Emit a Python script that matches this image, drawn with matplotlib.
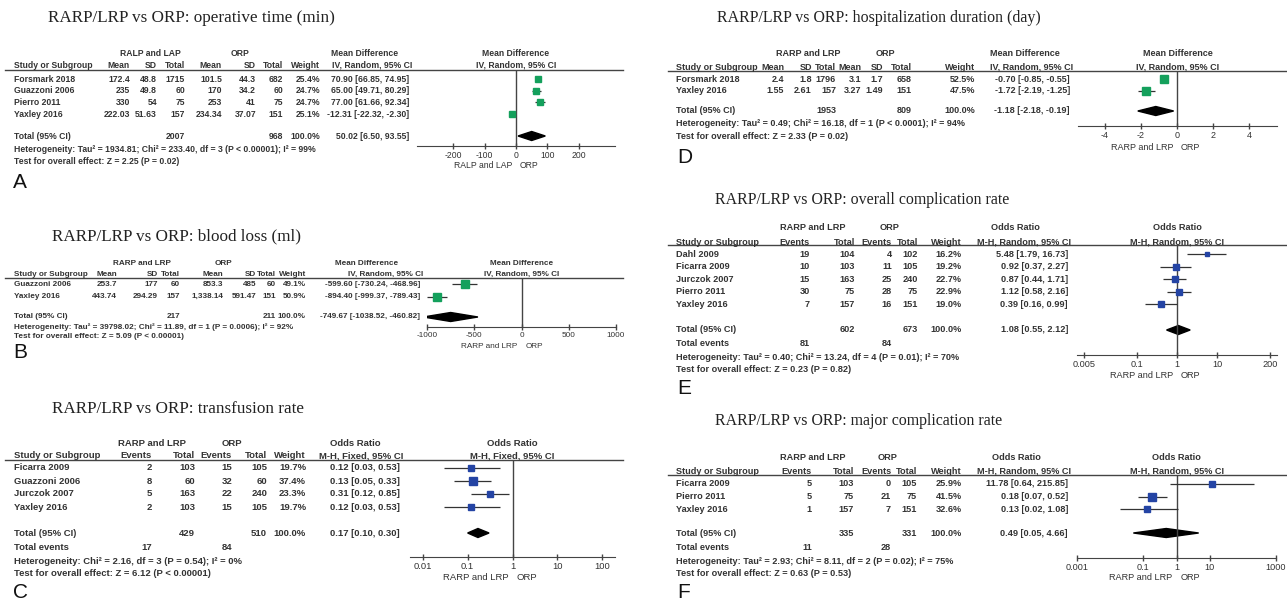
import numpy as np
import matplotlib.pyplot as plt
from matplotlib.lines import Line2D
from matplotlib import transforms
from matplotlib.ticker import FixedLocator, FixedFormatter, NullLocator

plt.rcParams['font.family'] = ['Liberation Sans', 'DejaVu Sans']

W, H = 1287, 606
SERIF = 'Liberation Serif'
TXT = '#333333'
AXC = '#444444'
GREEN = '#14a05c'
BLUE = '#2444a4'

# ---------------- A: operative time ----------------
a_studies = ["Forsmark 2018", "Guazzoni 2006", "Pierro 2011", "Yaxley 2016"]
a_exp_mean = [172.4, 235, 330, 222.03]
a_exp_sd = [48.8, 49.8, 54, 51.63]
a_exp_n = [1715, 60, 75, 157]
a_ctl_mean = [101.5, 170, 253, 234.34]
a_ctl_sd = [44.3, 34.2, 41, 37.07]
a_ctl_n = [682, 60, 75, 151]
a_weight = [25.4, 24.7, 24.7, 25.1]
a_md = [70.90, 65.00, 77.00, -12.31]
a_lo = [66.85, 49.71, 61.66, -22.32]
a_hi = [74.95, 80.29, 92.34, -2.30]
a_total = (50.02, 6.50, 93.55)
a_n_total = (2007, 968)
a_het = "Heterogeneity: Tau² = 1934.81; Chi² = 233.40, df = 3 (P < 0.00001); I² = 99%"
a_test = "Test for overall effect: Z = 2.25 (P = 0.02)"

# ---------------- B: blood loss ----------------
b_studies = ["Guazzoni 2006", "Yaxley 2016"]
b_exp_mean = [253.7, 443.74]
b_exp_sd = [177, 294.29]
b_exp_n = [60, 157]
b_ctl_mean = [853.3, 1338.14]
b_ctl_sd = [485, 591.47]
b_ctl_n = [60, 151]
b_weight = [49.1, 50.9]
b_md = [-599.60, -894.40]
b_lo = [-730.24, -999.37]
b_hi = [-468.96, -789.43]
b_total = (-749.67, -1038.52, -460.82)
b_n_total = (217, 211)
b_het = "Heterogeneity: Tau² = 39798.02; Chi² = 11.89, df = 1 (P = 0.0006); I² = 92%"
b_test = "Test for overall effect: Z = 5.09 (P < 0.00001)"

# ---------------- C: transfusion rate ----------------
c_studies = ["Ficarra 2009", "Guazzoni 2006", "Jurczok 2007", "Yaxley 2016"]
c_exp_ev = [2, 8, 5, 2]
c_exp_n = [103, 60, 163, 103]
c_ctl_ev = [15, 32, 22, 15]
c_ctl_n = [105, 60, 240, 105]
c_weight = [19.7, 37.4, 23.3, 19.7]
c_or = [0.12, 0.13, 0.31, 0.12]
c_lo = [0.03, 0.05, 0.12, 0.03]
c_hi = [0.53, 0.33, 0.85, 0.53]
c_total = (0.17, 0.10, 0.30)
c_n_total = (429, 510)
c_ev_total = (17, 84)
c_het = "Heterogeneity: Chi² = 2.16, df = 3 (P = 0.54); I² = 0%"
c_test = "Test for overall effect: Z = 6.12 (P < 0.00001)"

# ---------------- D: hospitalization duration ----------------
d_studies = ["Forsmark 2018", "Yaxley 2016"]
d_exp_mean = [2.4, 1.55]
d_exp_sd = [1.8, 2.61]
d_exp_n = [1796, 157]
d_ctl_mean = [3.1, 3.27]
d_ctl_sd = [1.7, 1.49]
d_ctl_n = [658, 151]
d_weight = [52.5, 47.5]
d_md = [-0.70, -1.72]
d_lo = [-0.85, -2.19]
d_hi = [-0.55, -1.25]
d_total = (-1.18, -2.18, -0.19)
d_n_total = (1953, 809)
d_het = "Heterogeneity: Tau² = 0.49; Chi² = 16.18, df = 1 (P < 0.0001); I² = 94%"
d_test = "Test for overall effect: Z = 2.33 (P = 0.02)"

# ---------------- E: overall complication rate ----------------
e_studies = ["Dahl 2009", "Ficarra 2009", "Jurczok 2007", "Pierro 2011", "Yaxley 2016"]
e_exp_ev = [19, 10, 15, 30, 7]
e_exp_n = [104, 103, 163, 75, 157]
e_ctl_ev = [4, 11, 25, 28, 16]
e_ctl_n = [102, 105, 240, 75, 151]
e_weight = [16.2, 19.2, 22.7, 22.9, 19.0]
e_or = [5.48, 0.92, 0.87, 1.12, 0.39]
e_lo = [1.79, 0.37, 0.44, 0.58, 0.16]
e_hi = [16.73, 2.27, 1.71, 2.16, 0.99]
e_total = (1.08, 0.55, 2.12)
e_n_total = (602, 673)
e_ev_total = (81, 84)
e_het = "Heterogeneity: Tau² = 0.40; Chi² = 13.24, df = 4 (P = 0.01); I² = 70%"
e_test = "Test for overall effect: Z = 0.23 (P = 0.82)"

# ---------------- F: major complication rate ----------------
f_studies = ["Ficarra 2009", "Pierro 2011", "Yaxley 2016"]
f_exp_ev = [5, 5, 1]
f_exp_n = [103, 75, 157]
f_ctl_ev = [0, 21, 7]
f_ctl_n = [105, 75, 151]
f_weight = [25.9, 41.5, 32.6]
f_or = [11.78, 0.18, 0.13]
f_lo = [0.64, 0.07, 0.02]
f_hi = [215.85, 0.52, 1.08]
f_total = (0.49, 0.05, 4.66)
f_n_total = (335, 331)
f_ev_total = (11, 28)
f_het = "Heterogeneity: Tau² = 2.93; Chi² = 8.11, df = 2 (P = 0.02); I² = 75%"
f_test = "Test for overall effect: Z = 0.63 (P = 0.53)"

md_heads = ["Mean", "SD", "Total", "Mean", "SD", "Total", "Weight"]
or_heads = ["Events", "Total", "Events", "Total", "Weight"]

fig = plt.figure(figsize=(W / 100, H / 100), dpi=100)


def fy(y):
    return 1 - y / H


def T(x, y, s, size, ha='left', weight='bold', **kw):
    fig.text(x / W, fy(y), s, ha=ha, va='center', fontsize=size,
             fontweight=weight, color=kw.pop('color', TXT), **kw)


def md_cells(em, es, en, cm, cs, cn, w):
    return [[f"{v:,}" for v in em], [str(v) for v in es], [str(v) for v in en],
            [f"{v:,}" for v in cm], [str(v) for v in cs], [str(v) for v in cn],
            [f"{v:.1f}%" for v in w]]


def or_cells(ee, en, ce, cn, w):
    return [[str(v) for v in ee], [str(v) for v in en], [str(v) for v in ce],
            [str(v) for v in cn], [f"{v:.1f}%" for v in w]]


def panel(L, title, group, heads, studies, cells, est, lo, hi, wt, tot, ntot,
          est_head, het, test, letter, events=None, log=False, color=GREEN):
    fs = L['fs']
    T(L['title'][0], L['title'][1], title, L['tfs'], weight='normal',
      family=SERIF, color='#222222')
    T(L['grp'][0], L['h1'], group, fs, ha='center')
    T(L['grp'][1], L['h1'], "ORP", fs, ha='center')
    T(L['est_h1'], L['h1'], est_head[0], fs, ha='center')
    T(L['name'], L['h2'], "Study or Subgroup", fs)
    for x, s in zip(L['cols'], heads):
        T(x, L['h2'], s, fs, ha='right')
    T(L['est_r'] + 3, L['h2'], est_head[1], fs, ha='right')
    fig.add_artist(Line2D([L['line_x'][0] / W, L['line_x'][1] / W],
                          [fy(L['line'])] * 2, transform=fig.transFigure,
                          color=AXC, lw=1))

    rows = [L['y0'] + i * L['dy'] for i in range(len(studies))]
    for i, (y, name) in enumerate(zip(rows, studies)):
        T(L['name'], y, name, fs)
        for x, col in zip(L['cols'], cells):
            T(x, y, col[i], fs, ha='right')
        T(L['est_r'], y, f"{est[i]:.2f} [{lo[i]:.2f}, {hi[i]:.2f}]", fs, ha='right')

    ty = L['tot']
    ncol = (2, 5) if events is None else (1, 3)
    T(L['name'], ty, "Total (95% CI)", fs)
    T(L['cols'][ncol[0]], ty, str(ntot[0]), fs, ha='right')
    T(L['cols'][ncol[1]], ty, str(ntot[1]), fs, ha='right')
    T(L['cols'][-1], ty, "100.0%", fs, ha='right')
    T(L['est_r'], ty, f"{tot[0]:.2f} [{tot[1]:.2f}, {tot[2]:.2f}]", fs, ha='right')
    if events is not None:
        T(L['name'], L['ev'], "Total events", fs)
        T(L['cols'][0], L['ev'], str(events[0]), fs, ha='right')
        T(L['cols'][2], L['ev'], str(events[1]), fs, ha='right')
    T(L['name'], L['het'], het, fs)
    T(L['name'], L['test'], test, fs)
    T(L['letter'][0], L['letter'][1], letter, 15, weight='normal', color='#111111')

    # forest plot
    x0, x1 = L['fx']
    ya, yt = L['axis'], L['line']
    ax = fig.add_axes([x0 / W, 1 - ya / H, (x1 - x0) / W, (ya - yt) / H])
    if log:
        ax.set_xscale('log')
    null = 1 if log else 0
    ax.set_xlim(L['xlim'])
    ax.set_ylim(ya, yt)
    ax.patch.set_visible(False)
    for s in ['top', 'left', 'right']:
        ax.spines[s].set_visible(False)
    ax.spines['bottom'].set_color(AXC)
    ax.set_yticks([])
    ax.xaxis.set_major_locator(FixedLocator(L['ticks']))
    ax.xaxis.set_major_formatter(FixedFormatter([f"{t:g}" for t in L['ticks']]))
    ax.xaxis.set_minor_locator(NullLocator())
    ax.tick_params(axis='x', direction='inout', length=4.5, width=1, color=AXC,
                   labelsize=fs, labelcolor=TXT, pad=1.5)
    ax.axvline(null, color=AXC, lw=1)
    ax.hlines(rows, lo, hi, color='#333333', lw=0.9)
    for y, e, w in zip(rows, est, wt):
        ax.plot(e, y, 's', ms=0.85 * np.sqrt(w), color=color, mec=color)
    d = 4.5
    ax.fill([tot[1], tot[0], tot[2], tot[0]], [ty, ty - d, ty, ty + d], color='black')

    T((x0 + x1) / 2, L['h1'], est_head[0], fs, ha='center')
    T((x0 + x1) / 2, L['h2'], est_head[1], fs, ha='center')

    base = transforms.blended_transform_factory(ax.transData, fig.transFigure)
    ax.text(null, fy(L['dir']), group, ha='right', va='center', fontsize=fs, color=TXT,
            transform=transforms.offset_copy(base, fig=fig, x=-4, units='dots'))
    ax.text(null, fy(L['dir']), "ORP", ha='left', va='center', fontsize=fs, color=TXT,
            transform=transforms.offset_copy(base, fig=fig, x=4, units='dots'))


LA = dict(fs=6.2, tfs=12.3, title=(48, 18), h1=53, h2=65, line=69.5, line_x=(5, 623), name=14,
          cols=[130, 157, 185, 222, 256, 283, 320], est_r=409, grp=(150, 240), est_h1=365,
          y0=79, dy=11.7, tot=136, het=149, test=162, letter=(13, 182),
          fx=(417, 615), axis=146, xlim=(-316, 316), ticks=[-200, -100, 0, 100, 200], dir=166)
LB = dict(fs=5.9, tfs=12.3, title=(52, 236), h1=264, h2=274, line=277.5, line_x=(5, 623), name=14,
          cols=[117, 158, 180, 223, 256, 276, 306], est_r=420, grp=(142, 223), est_h1=367,
          y0=284, dy=12.5, tot=317, het=327, test=336, letter=(13, 353),
          fx=(427, 616), axis=327, xlim=(-1000, 1000), ticks=[-1000, -500, 0, 500, 1000], dir=346)
LC = dict(fs=6.8, tfs=12.3, title=(52, 409), h1=443, h2=456, line=460, line_x=(5, 623), name=14,
          cols=[152, 195, 232, 267, 306], est_r=400, grp=(152, 232), est_h1=355,
          y0=468, dy=13, tot=533, ev=547, het=561, test=573, letter=(13, 593),
          fx=(410, 615), axis=557, xlim=(0.0052, 192), ticks=[0.01, 0.1, 1, 10, 100], dir=578)
LD = dict(fs=6.45, tfs=11.4, title=(717, 18), h1=54, h2=67, line=70.5, line_x=(668, 1287), name=676,
          cols=[784, 812, 836, 861, 883, 912, 975], est_r=1070, grp=(808, 885), est_h1=1025,
          y0=79, dy=11.5, tot=111, het=124, test=136, letter=(677, 157),
          fx=(1078, 1277), axis=126, xlim=(-5.5, 5.55), ticks=[-4, -2, 0, 2, 4], dir=147)
LE = dict(fs=6.6, tfs=11.4, title=(715, 200), h1=228, h2=242, line=245, line_x=(668, 1287), name=676,
          cols=[810, 855, 892, 918, 962], est_r=1068, grp=(813, 890), est_h1=1015,
          y0=254, dy=12.6, tot=330, ev=344, het=357, test=369, letter=(677, 388),
          fx=(1077, 1277), axis=355, xlim=(0.0033, 302), ticks=[0.005, 0.1, 1, 10, 200], dir=375)
LF = dict(fs=6.6, tfs=11.4, title=(715, 421), h1=457, h2=471, line=474.5, line_x=(668, 1287), name=676,
          cols=[812, 854, 891, 917, 962], est_r=1068, grp=(813, 888), est_h1=1016,
          y0=484, dy=12.7, tot=533, ev=547, het=561, test=574, letter=(677, 593),
          fx=(1077, 1276), axis=558, xlim=(0.001, 1000), ticks=[0.001, 0.1, 1, 10, 1000], dir=578)

panel(LA, "RARP/LRP vs ORP: operative time (min)", "RALP and LAP", md_heads, a_studies,
      md_cells(a_exp_mean, a_exp_sd, a_exp_n, a_ctl_mean, a_ctl_sd, a_ctl_n, a_weight),
      a_md, a_lo, a_hi, a_weight, a_total, a_n_total,
      ("Mean Difference", "IV, Random, 95% CI"), a_het, a_test, "A")
panel(LB, "RARP/LRP vs ORP: blood loss (ml)", "RARP and LRP", md_heads, b_studies,
      md_cells(b_exp_mean, b_exp_sd, b_exp_n, b_ctl_mean, b_ctl_sd, b_ctl_n, b_weight),
      b_md, b_lo, b_hi, b_weight, b_total, b_n_total,
      ("Mean Difference", "IV, Random, 95% CI"), b_het, b_test, "B")
panel(LC, "RARP/LRP vs ORP: transfusion rate", "RARP and LRP", or_heads, c_studies,
      or_cells(c_exp_ev, c_exp_n, c_ctl_ev, c_ctl_n, c_weight),
      c_or, c_lo, c_hi, c_weight, c_total, c_n_total,
      ("Odds Ratio", "M-H, Fixed, 95% CI"), c_het, c_test, "C",
      events=c_ev_total, log=True, color=BLUE)
panel(LD, "RARP/LRP vs ORP: hospitalization duration (day)", "RARP and LRP", md_heads, d_studies,
      md_cells(d_exp_mean, d_exp_sd, d_exp_n, d_ctl_mean, d_ctl_sd, d_ctl_n, d_weight),
      d_md, d_lo, d_hi, d_weight, d_total, d_n_total,
      ("Mean Difference", "IV, Random, 95% CI"), d_het, d_test, "D")
panel(LE, "RARP/LRP vs ORP: overall complication rate", "RARP and LRP", or_heads, e_studies,
      or_cells(e_exp_ev, e_exp_n, e_ctl_ev, e_ctl_n, e_weight),
      e_or, e_lo, e_hi, e_weight, e_total, e_n_total,
      ("Odds Ratio", "M-H, Random, 95% CI"), e_het, e_test, "E",
      events=e_ev_total, log=True, color=BLUE)
panel(LF, "RARP/LRP vs ORP: major complication rate", "RARP and LRP", or_heads, f_studies,
      or_cells(f_exp_ev, f_exp_n, f_ctl_ev, f_ctl_n, f_weight),
      f_or, f_lo, f_hi, f_weight, f_total, f_n_total,
      ("Odds Ratio", "M-H, Random, 95% CI"), f_het, f_test, "F",
      events=f_ev_total, log=True, color=BLUE)

fig.savefig("out.png", dpi=100)
